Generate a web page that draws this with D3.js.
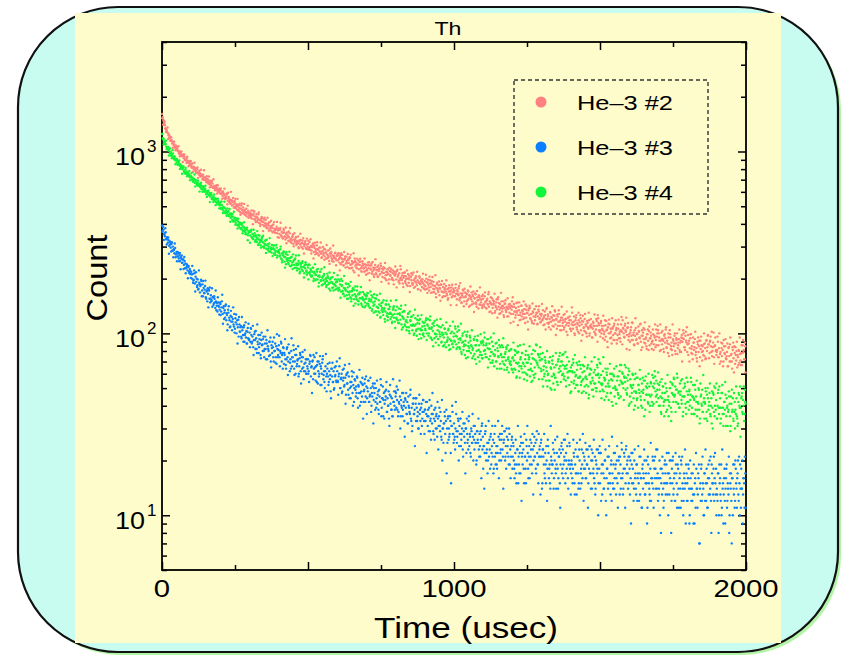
<!DOCTYPE html>
<html>
<head>
<meta charset="utf-8">
<script src="https://cdn.jsdelivr.net/npm/d3@7"></script>
<style>
  html, body { margin: 0; padding: 0; background: #fff; }
  svg { display: block; font-family: "Liberation Sans", Arial, sans-serif; }
</style>
</head>
<body>
<div id="chart"></div>
<script>
// Th run: counts per time bin for three He-3 tubes
// the readout is stored as two interleaved halves: A starts at 0 usec, B at binWidth/2
const binWidth = 2.5; // usec between bins of one half
const seriesNames = ["He–3 #2", "He–3 #3", "He–3 #4"];
const seriesColors = ["#ff8080", "#0a80ff", "#11f53a"];
const xTickLabels = [0, 1000, 2000];
const yTickLabels = [10, 100, 1000];

// one row = 100 usec
const countsHe2A = [
  1610,1545,1490,1432,1395,1340,1318,1275,1262,1228,1195,1210,1148,1160,1105,1122,1078,1095,1050,1068,1022,1045,1010,988,1002,968,985,952,940,962,918,935,905,892,915,872,884,858,866,842,
  835,858,812,826,798,815,782,770,795,758,775,742,760,728,748,735,712,725,698,718,690,705,682,668,694,660,675,652,640,668,632,648,625,640,618,630,606,622,598,612,
  612,585,598,570,590,556,575,548,562,580,535,552,528,545,518,538,505,530,512,496,520,488,505,478,498,472,490,465,485,458,476,492,455,470,448,465,440,458,472,445,
  462,440,455,428,448,472,425,440,418,436,410,428,452,405,420,398,415,432,395,410,388,402,420,385,396,378,392,408,372,388,366,380,395,362,376,358,372,386,355,368,
  372,352,380,345,362,338,356,370,340,328,352,335,345,322,338,355,318,332,325,342,310,328,318,335,306,322,312,298,320,308,326,300,315,292,310,302,318,295,308,290,
  310,295,318,288,302,285,298,312,280,295,272,290,305,276,288,268,282,296,274,262,285,270,292,265,278,258,272,285,262,250,275,266,280,255,268,248,262,276,258,252,
  268,252,275,245,262,240,258,270,248,236,255,265,242,250,232,256,244,262,238,228,250,242,222,246,258,235,245,228,240,252,225,238,248,220,234,242,228,218,240,232,
  238,222,245,228,215,236,224,242,218,230,210,226,238,214,222,232,206,220,228,212,235,218,204,224,215,228,200,218,210,225,212,198,220,208,226,202,214,196,218,208,
  212,198,220,205,192,214,200,225,196,208,188,202,215,194,206,185,200,212,190,198,182,205,196,210,188,178,200,192,206,184,196,175,190,202,186,194,180,198,188,176,
  194,182,200,176,190,185,172,196,180,188,168,184,192,175,182,165,178,190,172,184,162,176,186,170,158,180,168,174,160,182,166,175,156,170,178,164,172,158,168,176,
  172,160,178,165,154,170,162,182,156,166,148,162,174,158,150,168,160,145,164,172,155,162,142,158,168,150,160,146,156,166,148,140,158,152,162,144,154,148,160,142,
  155,144,160,148,138,152,145,164,140,150,132,146,156,138,144,150,130,142,148,136,154,140,128,145,138,150,132,142,126,138,146,134,140,124,136,144,130,138,128,135,
  140,128,145,132,122,138,130,148,126,134,118,130,142,124,132,120,136,128,144,122,130,116,134,126,138,120,128,114,132,124,136,118,126,130,112,124,132,120,128,116,
  128,118,134,122,112,126,120,138,114,124,108,120,130,116,122,110,126,118,134,112,120,106,124,116,128,110,118,104,122,114,126,108,116,120,102,114,122,110,118,106,
  118,112,130,106,116,100,112,122,108,114,102,118,110,126,104,112,98,116,108,120,102,110,96,114,106,118,100,108,112,95,106,114,102,110,98,120,110,126,114,104,
  104,114,100,106,94,110,102,118,96,104,90,108,100,112,94,102,88,106,98,110,92,100,104,88,98,106,94,102,90,112,102,118,106,96,110,104,122,98,108,92,
  99,90,104,97,115,92,101,86,97,107,93,99,88,103,95,112,90,97,84,101,93,105,88,95,82,99,91,103,86,94,97,82,91,99,87,95,84,105,96,110,
  86,95,80,91,101,87,93,82,97,89,105,84,91,78,95,87,99,82,89,76,93,85,97,80,88,92,77,86,93,81,89,79,98,90,104,93,84,97,91,108,
  87,76,91,83,99,78,85,72,89,81,93,76,83,70,87,79,91,74,82,86,71,80,87,75,83,73,92,84,98,87,78,91,85,102,80,89,74,85,95,81,
  79,96,74,83,68,79,89,75,81,70,85,77,93,72,79,66,83,75,87,70,77,64,81,73,85,68,76,80,65,74,81,69,77,67,86,78,92,81,72,85
];
const countsHe2B = [
  1521,1403,1468,1463,1336,1283,1300,1356,1171,1239,1188,1146,1199,1137,1045,1125,1134,1052,1016,1076,1037,1009,1070,972,941,993,1002,953,876,958,964,896,905,865,937,887,830,886,842,886,
  817,860,774,823,868,793,764,806,817,715,771,785,734,794,740,702,746,789,702,719,679,732,706,679,728,635,692,667,689,635,704,638,612,643,653,588,652,612,624,588,
  627,588,550,603,585,625,549,559,588,513,593,562,534,518,600,539,527,555,490,534,549,500,512,549,478,508,517,449,505,518,475,464,515,479,451,484,460,504,432,458,
  448,434,474,446,398,455,468,424,409,452,434,420,462,404,389,427,437,411,365,424,432,391,402,379,432,402,367,409,381,416,391,359,397,409,369,357,375,410,338,377,
  336,371,406,344,360,332,376,359,341,382,313,359,344,363,324,380,331,314,340,351,301,356,326,339,311,314,341,294,325,353,312,297,324,334,275,310,322,292,332,300,
  323,288,298,329,275,301,309,258,303,315,283,276,317,291,270,297,280,316,260,282,299,276,254,289,279,306,259,267,287,241,293,275,259,249,304,266,259,278,237,268,
  267,276,257,222,269,276,246,255,237,280,258,230,264,243,273,254,228,260,271,240,230,246,276,217,250,238,230,257,239,208,247,257,228,218,249,237,228,258,220,210,
  225,213,237,246,196,227,237,213,247,222,204,230,256,211,224,204,236,225,211,242,192,227,215,231,202,244,209,196,217,225,188,230,208,218,198,200,222,186,211,233,
  218,179,224,209,195,188,235,203,198,215,180,207,217,190,199,222,182,201,208,169,204,214,189,185,216,196,180,202,190,218,175,192,206,188,172,198,191,213,177,184,
  174,210,191,167,197,179,205,188,167,194,204,176,169,182,209,158,187,176,169,193,178,151,185,194,169,160,187,177,170,196,162,153,177,184,170,143,179,185,161,168,
  171,160,186,143,173,164,177,152,189,158,147,166,172,141,176,158,166,150,152,170,140,161,181,154,144,163,170,131,156,164,145,171,152,137,158,179,143,153,138,163,
  144,140,168,150,137,155,144,169,131,147,158,144,129,152,146,165,133,139,154,122,158,147,135,129,167,141,137,150,123,145,152,131,138,156,124,140,145,114,142,150,
  158,116,140,132,126,147,133,111,140,148,126,119,142,134,128,150,122,114,135,141,129,105,137,142,121,128,117,146,130,113,136,123,141,129,113,135,141,121,115,125,
  145,120,111,125,132,105,136,120,127,113,115,131,105,123,141,118,109,125,132,98,119,127,110,134,116,104,122,140,110,118,105,128,120,111,132,98,122,114,124,106,
  103,139,115,111,124,98,118,126,105,112,130,100,115,121,91,117,125,107,103,128,112,100,117,108,130,97,110,120,108,95,116,110,127,100,105,117,90,121,111,102,
  96,117,110,104,125,99,92,111,117,105,84,113,119,100,106,95,121,108,92,113,100,118,107,92,112,119,99,94,104,123,87,107,100,95,113,102,82,107,114,96,
  81,101,108,92,114,98,87,104,121,92,100,88,109,102,94,113,81,104,97,107,89,115,93,85,99,105,81,109,94,101,88,90,105,81,97,112,92,86,100,104,
  100,91,112,81,93,103,91,79,99,94,108,83,88,100,75,104,95,85,81,112,91,88,100,77,94,100,83,89,105,79,91,95,70,94,100,84,81,102,89,79,
  98,88,70,94,99,82,77,95,89,84,102,79,73,90,95,85,66,91,96,79,85,76,100,88,72,91,80,97,87,73,90,96,79,75,84,101,68,86,80,76,
  81,90,74,100,77,70,83,88,66,92,78,85,73,75,88,66,84,70,95,76,70,84,89,61,78,84,71,90,76,67,80,95,71,78,67,86,79,72,89,61
];

const countsHe3A = [
  392,365,372,350,342,360,330,338,315,325,302,320,296,310,285,300,290,276,295,272,280,265,276,258,270,250,262,268,245,255,238,250,242,228,240,222,232,218,226,212,
  218,200,212,195,222,188,205,192,180,198,176,190,168,185,194,172,160,178,166,182,158,170,150,165,175,155,148,162,152,140,158,146,155,138,150,142,132,148,140,135,
  145,132,150,128,138,120,134,142,118,126,112,130,122,108,125,116,104,120,112,128,106,115,100,118,108,96,112,102,110,94,104,98,108,90,100,95,88,102,94,92,
  101,90,106,88,96,84,92,102,82,94,78,90,98,84,88,76,92,86,80,96,74,88,82,92,72,85,80,90,76,70,86,78,84,70,80,88,74,68,82,76,
  86,74,80,90,70,78,84,68,76,72,64,82,74,70,78,62,72,80,66,74,86,64,70,60,76,68,72,58,66,78,62,70,64,74,56,68,62,72,60,66,
  72,62,68,76,58,66,70,56,64,74,60,66,54,70,62,58,68,52,64,60,72,56,62,50,66,58,60,68,52,62,56,48,64,58,54,62,50,58,66,54,
  62,54,58,66,50,56,60,48,55,64,52,57,46,60,53,49,58,44,54,51,62,47,52,42,56,49,51,58,44,52,47,40,54,48,45,52,42,49,56,45,
  51,44,48,55,42,46,50,40,45,53,43,47,38,50,44,41,48,36,45,42,52,39,44,35,47,41,43,49,37,44,40,34,46,41,38,44,35,42,48,38,
  45,39,43,49,37,41,45,35,40,47,38,42,33,44,39,36,42,32,40,37,46,34,39,31,41,36,38,44,33,39,35,30,41,36,33,39,31,37,43,33,
  38,33,36,42,31,35,39,29,34,40,32,36,28,38,33,30,36,27,34,31,39,29,33,26,20,30,32,37,28,33,17,25,35,30,28,33,15,31,37,28,
  32,27,30,36,25,29,33,24,28,34,26,30,23,32,27,25,30,22,28,26,33,24,27,21,29,25,27,31,23,28,25,20,29,25,23,28,21,26,31,23,
  18,24,22,29,20,23,17,25,21,23,27,19,24,21,17,25,21,19,24,18,22,27,20,28,23,26,31,21,25,29,20,24,30,22,26,19,28,23,21,26,
  18,25,20,16,22,17,19,23,15,19,22,17,25,21,19,23,15,21,18,26,20,22,16,24,19,21,25,17,23,20,27,21,18,26,22,19,28,23,21,25,
  21,15,23,19,17,22,15,20,18,24,16,19,14,21,17,19,23,16,20,18,14,22,18,16,21,15,19,24,17,23,19,21,26,17,20,24,16,19,25,18,
  13,20,16,18,22,15,19,17,13,21,17,15,20,14,18,23,16,22,18,20,25,16,19,23,15,18,24,17,20,14,22,18,16,21,14,19,17,23,15,18,
  15,22,17,13,19,14,16,20,12,16,18,14,21,17,15,19,12,17,14,22,16,18,13,20,15,17,21,13,19,16,23,17,14,22,18,15,24,19,17,21,
  21,13,16,22,15,18,12,20,16,14,19,12,17,15,21,13,16,11,18,14,16,20,13,17,15,11,19,15,13,18,12,16,21,14,20,16,18,23,14,17,
  16,14,10,18,15,13,17,11,15,20,13,19,15,17,22,13,16,20,12,15,21,14,17,12,19,15,13,18,11,16,14,20,12,15,10,17,14,15,19,12,
  12,19,14,10,16,12,14,17,9,13,15,11,18,14,13,16,7,14,12,19,13,15,10,17,12,15,18,11,16,13,20,14,12,19,15,13,21,16,15,18,
  14,12,17,10,15,13,19,11,14,9,16,12,14,18,11,15,13,8,17,14,12,16,10,14,19,12,18,14,16,20,12,15,19,11,14,20,13,16,11,17
];
const countsHe3B = [
  362,386,326,354,379,329,308,332,337,274,306,314,282,317,285,262,287,312,262,272,249,280,265,249,277,225,257,244,255,226,263,228,214,231,236,201,235,214,220,202,
  211,235,190,197,214,170,217,200,184,174,222,187,182,197,160,186,194,167,174,195,155,172,177,139,172,179,155,150,177,158,143,160,148,172,134,147,158,142,127,148,
  126,139,163,113,141,130,122,144,129,104,135,141,118,109,133,123,116,139,109,101,121,127,112,88,119,123,102,108,96,123,108,90,111,98,115,103,88,107,113,93,
  84,107,98,90,110,76,99,92,103,82,112,87,78,93,98,73,101,87,93,80,82,96,72,88,104,82,75,90,95,65,83,90,74,95,80,69,85,99,74,81,
  97,66,78,88,76,64,83,78,93,67,72,84,59,87,78,69,64,94,74,70,81,59,76,82,66,71,85,60,73,76,53,74,79,65,62,81,69,60,72,64,
  60,54,70,75,65,47,71,76,60,65,55,78,67,53,70,60,75,66,52,69,75,59,54,62,77,48,64,58,54,69,59,44,64,69,54,49,65,59,55,70,
  55,46,60,73,50,57,47,63,57,51,67,41,59,53,61,46,68,50,44,54,58,40,61,50,55,45,47,57,39,51,63,47,42,53,57,34,48,53,42,58,
  36,50,55,42,45,57,37,47,51,32,50,53,42,39,55,46,38,49,42,56,35,44,51,43,34,48,45,54,37,40,48,31,52,45,38,35,56,42,40,48,
  47,51,38,35,42,55,30,43,39,35,47,40,27,43,47,36,32,45,39,36,49,33,29,41,44,36,24,41,44,33,37,30,46,38,28,41,34,43,37,28,
  38,42,22,35,38,29,43,33,26,36,47,29,34,26,39,35,30,42,23,35,31,37,27,43,30,25,32,35,22,38,30,34,26,27,35,22,31,40,28,25,
  26,23,42,29,27,34,20,31,34,24,28,37,21,29,32,17,30,34,25,23,35,28,22,30,25,36,20,26,31,25,19,29,26,34,21,24,29,16,32,27,
  24,14,28,31,22,25,20,33,26,18,28,22,31,26,18,28,31,22,19,24,33,16,26,22,20,28,23,14,26,29,21,18,27,24,21,30,19,16,24,27,
  21,24,18,19,26,15,23,31,21,17,24,27,12,22,25,18,28,21,15,24,31,18,21,16,26,23,19,28,13,24,21,25,17,29,19,15,21,24,13,26,
  14,23,21,28,16,19,24,12,26,22,18,15,31,20,19,25,14,22,26,17,19,27,14,21,23,11,22,25,18,16,26,20,15,22,18,28,14,20,24,19,
  17,19,15,26,21,13,23,17,25,21,14,23,26,17,15,19,28,12,21,18,16,23,19,11,21,24,17,14,23,20,17,26,15,13,20,23,18,10,22,24,
  22,12,19,26,17,14,20,23,10,18,21,15,24,17,13,20,27,15,19,14,22,19,16,24,11,20,17,21,14,25,16,13,18,21,11,23,17,20,14,15,
  18,20,9,19,22,15,14,23,17,13,19,16,24,12,17,21,16,11,19,17,23,13,15,20,9,21,17,14,12,25,16,15,20,11,18,21,14,16,23,12,
  13,20,16,8,18,21,14,12,19,17,15,22,13,10,17,20,15,8,18,20,13,16,12,22,17,11,19,14,21,17,11,19,21,14,12,16,23,9,17,15,
  16,18,9,20,14,17,12,13,19,9,16,22,14,11,17,19,7,15,18,12,21,14,10,17,23,12,15,11,19,16,13,21,8,17,15,18,12,22,13,10,
  13,17,8,19,16,12,10,23,15,13,18,9,16,19,12,14,21,10,15,17,7,16,19,13,11,20,15,11,17,13,21,10,14,18,14,9,16,15,21,11
];

const countsHe4A = [
  1250,1185,1178,1125,1108,1095,1062,1050,1052,1010,1025,978,990,962,948,975,920,935,895,912,870,890,858,875,838,852,815,830,800,815,782,770,795,755,776,740,758,748,722,735,
  728,702,718,688,706,672,688,694,660,675,648,662,638,655,628,645,618,635,602,625,610,596,588,606,575,592,566,580,555,572,545,560,536,552,528,544,520,535,512,504,
  512,490,508,478,495,468,488,458,472,462,452,470,440,455,432,448,422,440,415,428,432,405,420,395,412,388,405,380,398,372,392,366,385,375,360,378,352,368,346,360,
  362,345,368,338,352,330,345,356,325,340,318,335,348,312,326,305,322,338,300,315,295,310,325,292,305,288,300,312,282,296,278,292,305,275,288,270,284,296,268,280,
  282,265,290,258,275,252,268,280,248,262,240,256,270,244,252,235,250,262,238,226,248,238,255,230,242,222,238,250,226,218,240,230,244,220,232,214,228,240,222,216,
  230,215,238,210,222,205,218,230,200,214,196,210,224,198,206,190,204,218,194,184,205,196,212,188,198,180,194,206,186,176,198,190,202,178,188,172,186,198,182,176,
  192,178,198,174,186,170,182,194,166,178,160,175,188,162,170,155,168,182,158,150,170,162,176,154,164,146,160,172,152,144,164,156,168,146,155,140,152,164,148,142,
  160,146,166,142,155,138,150,162,136,148,130,144,156,132,140,126,138,152,130,122,142,134,148,126,135,120,132,144,125,118,136,128,140,120,128,114,126,138,122,116,
  134,122,140,118,128,114,126,136,112,124,108,120,132,110,116,104,115,128,108,100,118,111,124,104,112,98,110,121,103,97,114,106,118,99,106,94,104,116,100,96,
  115,104,121,100,110,97,107,118,95,106,92,103,114,94,100,89,99,111,93,86,102,96,108,90,98,85,95,106,89,84,99,92,104,86,93,82,91,102,88,84,
  100,90,106,87,96,84,93,104,82,92,79,89,100,81,87,76,86,98,80,74,89,83,95,78,85,73,83,93,77,72,86,80,91,74,81,70,79,90,76,73,
  89,80,95,77,86,74,83,93,72,82,69,79,90,71,77,66,76,88,70,64,80,74,86,68,76,64,74,84,68,63,77,71,82,65,72,61,70,81,67,64,
  73,61,71,81,63,69,58,68,79,62,57,72,66,78,61,68,56,66,76,60,55,69,63,74,58,64,54,62,73,59,57,80,71,86,69,77,65,74,84,64,
  72,56,51,66,60,71,55,62,51,60,70,55,50,64,58,68,53,59,49,57,67,54,52,72,64,78,62,70,59,67,77,58,66,55,64,74,57,62,52,62,
  65,54,62,72,53,61,50,59,69,52,57,48,57,67,52,47,61,56,66,51,57,47,56,65,51,46,60,54,63,49,55,45,53,63,50,48,67,59,72,57,
  48,53,44,53,62,48,43,56,51,61,47,53,43,51,60,47,42,55,50,58,45,50,41,49,58,46,44,62,55,67,53,60,50,58,67,49,57,46,55,64,
  62,45,52,42,50,59,44,48,40,48,57,44,39,52,47,56,43,48,39,47,55,43,38,51,46,53,41,46,37,45,53,42,40,57,50,62,48,55,46,53,
  44,52,40,45,36,44,51,40,35,47,43,50,38,43,35,42,50,39,37,53,46,57,45,51,42,49,57,41,48,39,46,55,41,45,37,45,53,41,36,48,
  54,42,48,40,46,54,39,45,36,43,52,38,42,35,42,50,38,34,45,41,49,37,42,34,41,48,37,33,44,40,47,36,40,32,39,47,37,35,50,43,
  34,40,49,36,39,32,39,47,36,31,42,38,46,35,39,31,38,45,35,31,41,37,44,33,37,30,36,44,34,32,47,40,51,39,45,37,43,51,36,42
];
const countsHe4B = [
  1247,1167,1092,1147,1104,1145,1030,1031,1059,950,1043,993,948,919,1017,932,910,938,851,899,910,845,853,894,802,834,839,754,816,828,773,758,813,768,731,766,735,782,696,722,
  761,701,681,702,748,643,695,670,650,692,657,602,661,673,621,601,645,623,605,648,582,563,600,608,578,527,586,592,547,555,528,580,546,507,548,518,550,523,487,524,
  484,531,489,459,494,529,460,474,443,486,466,444,483,411,456,437,454,412,466,415,395,419,428,377,427,396,407,378,379,403,355,383,408,367,351,375,381,325,356,365,
  315,362,372,337,330,371,342,319,347,328,365,306,328,344,319,296,330,319,344,298,304,323,277,327,309,292,282,334,296,289,306,266,294,304,274,281,306,261,281,287,
  277,268,300,257,246,275,282,263,230,273,280,250,259,241,281,260,234,264,245,272,253,229,258,268,237,228,242,269,214,244,233,224,249,232,203,238,246,220,210,237,
  198,239,217,226,206,208,230,194,218,240,209,198,218,226,181,208,218,196,226,202,186,208,231,191,201,184,213,202,190,216,172,202,192,204,179,215,185,174,191,197,
  209,172,178,194,157,199,184,171,164,207,177,172,187,155,179,187,163,170,192,155,172,177,142,173,181,159,154,181,164,150,168,156,180,143,158,169,154,139,162,155,
  162,167,145,151,139,170,153,133,158,142,164,150,132,155,162,139,132,144,165,123,147,138,131,152,138,116,144,151,129,123,144,136,130,151,123,116,135,141,128,107,
  152,120,128,114,137,129,119,142,105,131,122,133,112,143,118,108,123,129,103,132,117,123,110,111,126,100,135,112,105,119,125,93,113,120,104,126,109,98,114,110,
  106,118,92,112,120,100,106,124,94,108,113,85,110,117,99,96,119,104,93,109,99,120,89,101,111,99,86,106,101,115,90,95,106,81,110,100,91,87,116,96,
  91,109,97,82,102,109,89,84,94,113,77,97,90,85,102,91,73,96,102,85,80,97,91,86,104,81,75,92,96,86,68,92,97,81,86,76,99,88,73,91,
  86,101,81,74,88,93,65,82,88,75,95,79,69,85,100,75,81,70,89,83,75,92,64,84,77,86,70,94,74,67,79,84,63,86,74,80,68,70,82,63,
  74,89,64,76,80,57,78,85,69,66,86,74,64,78,69,87,61,72,80,69,59,76,72,85,63,68,77,55,81,72,65,60,87,69,67,76,56,71,77,62,
  72,78,63,58,74,69,65,80,59,55,69,74,65,49,71,75,60,65,57,78,67,54,70,61,75,66,54,70,76,60,56,64,79,51,67,61,57,70,62,47,
  48,67,61,69,55,76,58,52,63,67,48,70,58,64,54,55,67,48,62,74,58,52,64,67,44,59,64,53,70,57,49,61,74,53,59,50,65,60,54,69,
  68,59,52,49,74,57,55,64,45,59,64,51,55,68,47,56,60,40,59,64,51,49,66,55,47,58,52,67,45,54,61,53,43,57,54,65,47,50,59,40,
  41,56,51,47,60,52,38,56,60,47,43,57,52,49,63,45,40,53,57,49,35,55,58,46,50,42,60,51,40,54,46,59,51,41,53,58,45,42,49,61,
  40,49,54,37,56,47,51,42,43,53,37,48,59,45,40,50,54,33,47,52,42,56,46,37,49,60,41,47,39,53,48,43,56,35,50,45,51,39,57,42,
  46,38,49,43,57,36,45,52,44,36,49,45,55,38,41,49,32,53,46,40,37,59,44,42,50,34,46,50,38,42,53,35,44,48,30,46,51,40,38,53,
  34,47,39,51,44,34,47,52,39,36,42,54,31,44,40,37,48,41,29,45,49,38,34,47,42,38,51,35,31,42,46,39,27,44,47,36,40,33,49,41
];

const width = 841, height = 655;
const plot = { left: 162, right: 746, top: 42, bottom: 570 };

const svg = d3.select('#chart')
    .append('svg')
    .attr('width', width)
    .attr('height', height);

// rounded card with a green drop shadow, yellow sheet on top
svg.append('rect')
    .attr('x', 21).attr('y', 10)
    .attr('width', 820).attr('height', 645)
    .attr('rx', 100).attr('ry', 100)
    .attr('fill', '#b2f5a6');
svg.append('rect')
    .attr('x', 18).attr('y', 7)
    .attr('width', 820).attr('height', 645)
    .attr('rx', 100).attr('ry', 100)
    .attr('fill', '#c8fcf0')
    .attr('stroke', '#111')
    .attr('stroke-width', 2.2);
svg.append('rect')
    .attr('x', 75).attr('y', 13)
    .attr('width', 706).attr('height', 630)
    .attr('fill', '#fffccc');

const x = d3.scaleLinear().domain([0, 2000]).range([plot.left, plot.right]);
const y = d3.scaleLog().domain([5, 4000]).range([plot.bottom, plot.top]);

// ticks (all pointing inwards)
const xMinor = d3.range(0, 2001, 250).filter(d => d % 500 !== 0);
const xMajor = d3.range(0, 2001, 500);
const yAll = y.ticks();
const yMajor = yAll.filter(d => Math.abs(Math.log10(d) % 1) < 1e-9);
const yMinor = yAll.filter(d => !yMajor.includes(d));

function tickAxis(axisFn, scale, values, size, transform) {
    const g = svg.append('g')
        .attr('transform', transform)
        .call(axisFn(scale).tickValues(values).tickSize(-size).tickFormat(''));
    g.select('.domain').remove();
    g.selectAll('line').attr('stroke', '#000').attr('stroke-width', 1.5);
}
tickAxis(d3.axisBottom, x, xMajor, 8, `translate(0,${plot.bottom})`);
tickAxis(d3.axisBottom, x, xMinor, 5, `translate(0,${plot.bottom})`);
tickAxis(d3.axisTop, x, xMajor, 8, `translate(0,${plot.top})`);
tickAxis(d3.axisTop, x, xMinor, 5, `translate(0,${plot.top})`);
tickAxis(d3.axisLeft, y, yMajor, 8, `translate(${plot.left},0)`);
tickAxis(d3.axisLeft, y, yMinor, 5, `translate(${plot.left},0)`);
tickAxis(d3.axisRight, y, yMajor, 8, `translate(${plot.right},0)`);
tickAxis(d3.axisRight, y, yMinor, 5, `translate(${plot.right},0)`);

svg.append('rect')
    .attr('x', plot.left).attr('y', plot.top)
    .attr('width', plot.right - plot.left)
    .attr('height', plot.bottom - plot.top)
    .attr('fill', 'none')
    .attr('stroke', '#000')
    .attr('stroke-width', 1.8);

// tick labels
svg.append('g')
    .selectAll('text')
    .data(xTickLabels)
    .enter()
    .append('text')
    .attr('x', d => x(d))
    .attr('y', 597)
    .attr('text-anchor', 'middle')
    .attr('font-size', 24)
    .attr('textLength', d => String(d).length * 16.3)
    .attr('lengthAdjust', 'spacingAndGlyphs')
    .text(d => d);

const yLab = svg.append('g').selectAll('g').data(yTickLabels).enter().append('g');
yLab.append('text')
    .attr('x', 115)
    .attr('y', d => y(d) + 13.5)
    .attr('font-size', 24)
    .attr('textLength', 30)
    .attr('lengthAdjust', 'spacingAndGlyphs')
    .text('10');
yLab.append('text')
    .attr('x', 147)
    .attr('y', d => y(d) + 0.5)
    .attr('font-size', 17)
    .text(d => Math.round(Math.log10(d)));

// titles
svg.append('text')
    .attr('x', 448).attr('y', 35)
    .attr('text-anchor', 'middle')
    .attr('font-size', 19)
    .attr('textLength', 27)
    .attr('lengthAdjust', 'spacingAndGlyphs')
    .text('Th');
svg.append('text')
    .attr('x', 466).attr('y', 638)
    .attr('text-anchor', 'middle')
    .attr('font-size', 30)
    .attr('textLength', 184)
    .attr('lengthAdjust', 'spacingAndGlyphs')
    .text('Time (usec)');
svg.append('text')
    .attr('transform', 'translate(107,278) rotate(-90)')
    .attr('text-anchor', 'middle')
    .attr('font-size', 30)
    .attr('textLength', 87)
    .attr('lengthAdjust', 'spacingAndGlyphs')
    .text('Count');

// scatter points
svg.append('clipPath').attr('id', 'plot-clip')
    .append('rect')
    .attr('x', plot.left - 2).attr('y', plot.top)
    .attr('width', plot.right - plot.left + 4)
    .attr('height', plot.bottom - plot.top);

const seriesCounts = [
    { a: countsHe2A, b: countsHe2B },
    { a: countsHe3A, b: countsHe3B },
    { a: countsHe4A, b: countsHe4B }
];
const points = svg.append('g').attr('clip-path', 'url(#plot-clip)');
seriesCounts.forEach((s, k) => {
    const pts = s.a.map((c, i) => ({ t: i * binWidth, c: c }))
        .concat(s.b.map((c, i) => ({ t: i * binWidth + binWidth / 2, c: c })));
    points.append('g')
        .selectAll('circle')
        .data(pts)
        .enter()
        .append('circle')
        .attr('cx', d => x(d.t))
        .attr('cy', d => y(d.c))
        .attr('r', 1.2)
        .attr('fill', seriesColors[k]);
});

// legend
const legend = svg.append('g');
legend.append('rect')
    .attr('x', 514).attr('y', 80)
    .attr('width', 194).attr('height', 134)
    .attr('fill', 'none')
    .attr('stroke', '#333')
    .attr('stroke-width', 1.4)
    .attr('stroke-dasharray', '4,3');
const item = legend.selectAll('g.item')
    .data(seriesNames)
    .enter()
    .append('g')
    .attr('class', 'item')
    .attr('transform', (d, i) => `translate(0,${102 + i * 45})`);
item.append('circle')
    .attr('cx', 541).attr('cy', 0)
    .attr('r', 5.5)
    .attr('fill', (d, i) => seriesColors[i]);
item.append('text')
    .attr('x', 577).attr('y', 8)
    .attr('font-size', 21)
    .attr('textLength', 96)
    .attr('lengthAdjust', 'spacingAndGlyphs')
    .text(d => d);
</script>
</body>
</html>
